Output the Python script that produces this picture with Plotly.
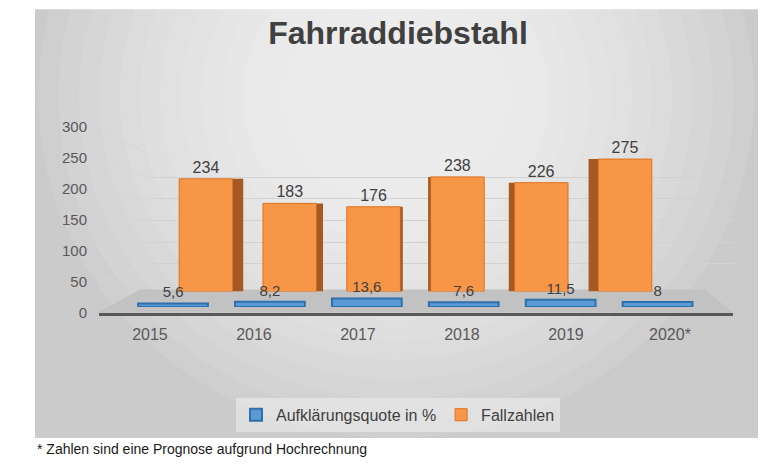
import plotly.graph_objects as go

# data
years = ["2015", "2016", "2017", "2018", "2019", "2020*"]
fallzahlen = [234, 183, 176, 238, 226, 275]
aufklaerung = [5.6, 8.2, 13.6, 7.6, 11.5, 8]
y_ticks = [0, 50, 100, 150, 200, 250, 300]

# the page has an 8px body margin, so the figure is a bit smaller than the window
PAD = 8
W, H = 780 - PAD, 470 - PAD
FONT = "Liberation Sans, Arial, sans-serif"


def px_x(p):
    return (p - PAD) / W


def px_y(p):
    return 1 - (p - PAD) / H


# fake 3D: the columns sit on a back plane, the slabs on a front plane
bar_w = 0.64
side = [(2.6 - i) * 4.0 / 83.8 for i in range(len(years))]
side_off = [bar_w / 2 if s > 0 else -bar_w / 2 + s for s in side]
side_w = [abs(s) for s in side]

fig = go.Figure()

fig.add_trace(go.Bar(
    x=years, y=aufklaerung, xaxis="x3", yaxis="y3",
    name="Aufklärungsquote in %", width=0.72,
    marker=dict(color="#5b9bd5", line=dict(color="#2f6fae", width=2)),
    text=[str(v).replace(".", ",") for v in aufklaerung],
    textposition="outside", cliponaxis=False,
    textfont=dict(size=15, color="#404040", family=FONT),
))
fig.add_trace(go.Bar(
    x=years, y=fallzahlen, xaxis="x2", yaxis="y2",
    name="Fallzahlen", width=bar_w,
    marker=dict(color="#f79646", line=dict(color="#e0711f", width=1)),
    text=[str(v) for v in fallzahlen],
    textposition="outside", cliponaxis=False,
    textfont=dict(size=16, color="#404040", family=FONT),
))
# darker side faces of the columns
fig.add_trace(go.Bar(
    x=years, y=fallzahlen, xaxis="x2", yaxis="y2",
    width=side_w, offset=side_off, showlegend=False, hoverinfo="skip",
    marker=dict(color="#a65a22", line=dict(width=0)),
))
# empty traces so the wall grid and the front axes get drawn
fig.add_trace(go.Scatter(x=[None], y=[None], xaxis="x", yaxis="y",
                         showlegend=False, hoverinfo="skip"))
fig.add_trace(go.Scatter(x=years, y=[None] * len(years), xaxis="x4", yaxis="y4",
                         mode="markers", showlegend=False, hoverinfo="skip"))

# background panel with a soft light spot at the top
shapes = [dict(type="rect", xref="paper", yref="paper", layer="below",
               x0=px_x(35), x1=px_x(758), y0=px_y(445), y1=px_y(0),
               fillcolor="#cbcbcb", line=dict(width=0))]
n_rings = 14
for k in range(n_rings):
    f = 1.0 - k * 0.8 / n_rings
    rx, ry, cx, cy = 358 * f, 355 * f, 396, 90
    shapes.append(dict(type="circle", xref="paper", yref="paper", layer="below",
                       x0=px_x(cx - rx), x1=px_x(cx + rx),
                       y0=px_y(cy + ry), y1=px_y(cy - ry),
                       fillcolor="white", opacity=0.085, line=dict(width=0)))
# floor
shapes.append(dict(type="path", xref="paper", yref="paper", layer="below",
                   path="M {},{} L {},{} L {},{} L {},{} Z".format(
                       px_x(97), px_y(315), px_x(733), px_y(315),
                       px_x(705), px_y(291), px_x(140), px_y(291)),
                   fillcolor="#c2c2c2", line=dict(width=0)))
# left wall grid lines
for v in y_ticks[1:]:
    shapes.append(dict(type="line", xref="paper", yref="paper", layer="below",
                       x0=px_x(99), y0=px_y(315 - v * 193 / 300),
                       x1=px_x(150), y1=px_y(286.5 - v * 134.5 / 300),
                       line=dict(color="#d6d6d6", width=1)))

hidden = dict(visible=False, showgrid=False, zeroline=False)

fig.update_layout(
    width=W, height=H,
    margin=dict(l=0, r=0, t=0, b=0),
    paper_bgcolor="white", plot_bgcolor="rgba(0,0,0,0)",
    barmode="overlay",
    font=dict(family=FONT, color="#404040"),
    title=dict(text="<b>Fahrraddiebstahl</b>", x=px_x(398), xanchor="center",
               y=px_y(33), yanchor="middle",
               font=dict(size=32, color="#404040", family=FONT)),
    # back wall grid
    xaxis=dict(domain=[px_x(150), px_x(735)], range=[0, 1], anchor="y",
               showgrid=False, zeroline=False, showticklabels=False, showline=False),
    yaxis=dict(domain=[px_y(286.5), px_y(152)], range=[0, 300], anchor="x",
               tickvals=y_ticks[1:], showgrid=True, gridcolor="#d2d2d2", gridwidth=1,
               zeroline=False, showticklabels=False, showline=False),
    # columns
    xaxis2=dict(domain=[px_x(164.1), px_x(666.9)], range=[-0.5, 5.5], anchor="y2", **hidden),
    yaxis2=dict(domain=[px_y(293), px_y(143)], range=[0, 300], anchor="x2", **hidden),
    # slabs
    xaxis3=dict(domain=[px_x(124.6), px_x(706)], range=[-0.5, 5.5], anchor="y3", **hidden),
    yaxis3=dict(domain=[px_y(309), px_y(116)], range=[0, 300], anchor="x3", **hidden),
    # front axes with labels
    xaxis4=dict(domain=[px_x(99), px_x(733.4)], range=[-0.49, 5.61], anchor="y4",
                showline=True, linecolor="#595959", linewidth=3,
                showgrid=False, zeroline=False,
                ticks="outside", ticklen=5, tickcolor="rgba(0,0,0,0)",
                tickfont=dict(size=16, color="#595959", family=FONT)),
    yaxis4=dict(domain=[px_y(315), px_y(122)], range=[0, 300], anchor="x4",
                tickvals=y_ticks, showgrid=False, zeroline=False, showline=False,
                ticks="outside", ticklen=8, tickcolor="rgba(0,0,0,0)",
                tickfont=dict(size=15, color="#595959", family=FONT)),
    legend=dict(orientation="h", x=px_x(398), xanchor="center",
                y=px_y(421), yanchor="middle",
                bgcolor="rgba(236,236,236,0.6)", itemwidth=30,
                font=dict(size=16, color="#404040", family=FONT)),
    shapes=shapes,
    annotations=[dict(text="* Zahlen sind eine Prognose aufgrund Hochrechnung",
                      xref="paper", yref="paper", x=px_x(35), y=px_y(457),
                      xanchor="left", yanchor="middle", showarrow=False,
                      font=dict(size=14, color="#1a1a1a",
                                family="Liberation Sans Narrow, Liberation Sans, Arial"))],
)

fig.write_html("out.html")
